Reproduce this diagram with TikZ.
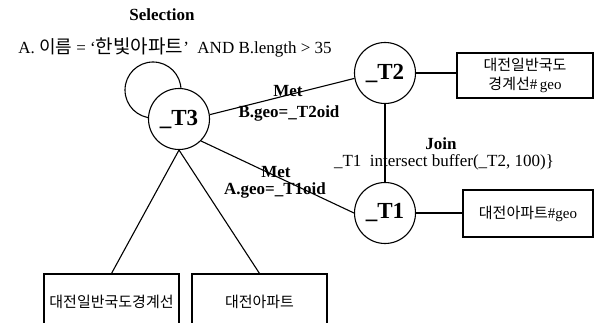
\documentclass[tikz,border=0pt]{standalone}
\usepackage{fontspec}
\setmainfont{Liberation Serif}
\newfontfamily\krfont{Noto Sans CJK KR}
\usetikzlibrary{calc}
\usetikzlibrary{positioning}

\begin{document}
\begin{tikzpicture}[
		x=1pt,y=-1pt,
		line width=1.1pt,
		state/.style={draw,circle,fill=white,minimum size=61pt,inner sep=0pt,font=\fontsize{23}{23}\selectfont\bfseries},
		table/.style={draw,align=center,inner sep=1pt,font=\fontsize{15}{19}\selectfont},
		lbl/.style={inner sep=0pt,font=\fontsize{17}{17}\selectfont},
		blbl/.style={inner sep=0pt,font=\fontsize{17}{17}\selectfont\bfseries}
	]
	\useasboundingbox (0,0) rectangle (594,323);

	\coordinate (c3) at (179,119);
	\draw ($(c3)+(-26,-29)$) circle (28);
	\node [state] (t3) at (c3) {\_T3};
	\node [state] (t2) at (385,73) {\_T2};
	\node [state] (t1) at (385,213) {\_T1};

	\node [table,minimum width=136,minimum height=45] (b2) at (525,75.5) {{\krfont 대전일반국도}\\{\krfont 경계선}\#\,geo};
	\node [table,minimum width=130,minimum height=47] (b1) at (528,213.5) {{\krfont 대전아파트}\#geo};
	\node [table,minimum width=135,minimum height=56] (g1) at (111.5,302) {\krfont 대전일반국도경계선};
	\node [table,minimum width=135,minimum height=56] (g2) at (259.5,302) {\krfont 대전아파트};

	\draw (t3.8) -- (t2.190);
	\draw (t3.-45) -- (t1.west);
	\draw (t3.south) -- (g1.north);
	\draw (t3.south) -- (g2.north);
	\draw (t2) -- (t1);
	\draw (t2.east) -- (t2.east -| b2.west);
	\draw (t1.east) -- (t1.east -| b1.west);

	\node [blbl] (sel) at (162,15) {Selection};
	\node [lbl] (cond) at (175,47) {A. {\krfont\fontsize{18}{18}\selectfont 이름} = `{\krfont\fontsize{19}{19}\selectfont 한빛아파트}'\ \ AND B.length > 35};
	\node [blbl] (met2) at (288,91) {Met};
	\node [blbl] (geo2) at (289,113) {B.geo=\_T2oid};
	\node [blbl] (met1) at (276,172) {Met};
	\node [blbl] (geo1) at (275,190) {A.geo=\_T1oid};
	\node [blbl] (join) at (441,144) {Join};
	\node [lbl] (pred) at (444,162) {\_T1\ \ intersect buffer(\_T2, 100)\}};
\end{tikzpicture}
\end{document}
